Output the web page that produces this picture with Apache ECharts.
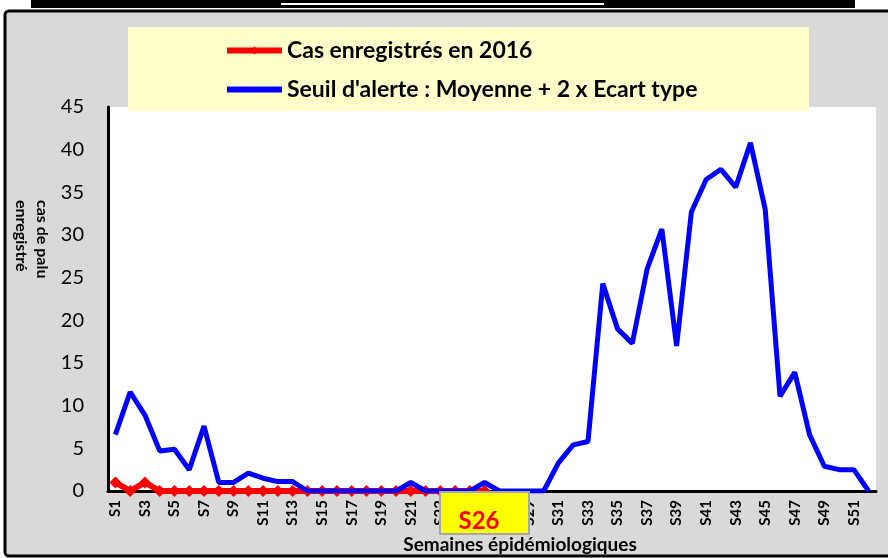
<!DOCTYPE html>
<html>
<head>
<meta charset="utf-8">
<script src="https://cdn.jsdelivr.net/npm/echarts@6/dist/echarts.min.js"></script>
<style>
  html, body { margin: 0; padding: 0; background: #fff; }
  #main { width: 888px; height: 558px; }
</style>
</head>
<body>
<div id="main"></div>
<script>
// semaines epidemiologiques
const weeks = ["S1", "S2", "S3", "S4", "S5", "S6", "S7", "S8", "S9", "S10",
  "S11", "S12", "S13", "S14", "S15", "S16", "S17", "S18", "S19", "S20",
  "S21", "S22", "S23", "S24", "S25", "S26", "S27", "S28", "S29", "S30",
  "S31", "S32", "S33", "S34", "S35", "S36", "S37", "S38", "S39", "S40",
  "S41", "S42", "S43", "S44", "S45", "S46", "S47", "S48", "S49", "S50",
  "S51", "S52"];

// cas enregistrés en 2016 (jusqu'à S26)
const cas2016 = [1, 0, 1, 0, 0, 0, 0, 0, 0, 0, 0, 0, 0,
  0, 0, 0, 0, 0, 0, 0, 0, 0, 0, 0, 0, 0];

// seuil d'alerte : moyenne + 2 x ecart type
const seuil = [6.6, 11.6, 8.9, 4.7, 4.9, 2.5, 7.6, 1.0, 1.0, 2.1,
  1.5, 1.1, 1.1, 0, 0, 0, 0, 0, 0, 0,
  1.0, 0, 0, 0, 0, 1.0, 0, 0, 0, 0,
  3.3, 5.4, 5.8, 24.3, 19.0, 17.3, 26.0, 30.7, 17.0, 32.7,
  36.5, 37.7, 35.6, 40.8, 33.0, 11.1, 13.9, 6.6, 2.9, 2.5,
  2.5, 0];

const yTicks = [0, 45, 5]; // min, max, pas
const legendNames = ["Cas enregistrés en 2016", "Seuil d'alerte : Moyenne + 2 x Ecart type"];
const currentWeek = "S26";

const font = "Lato, 'Noto Sans', sans-serif";
const chart = echarts.init(document.getElementById("main"));

const option = {
  backgroundColor: "#fff",
  animation: false,
  textStyle: { fontFamily: font },
  grid: {
    left: 108,
    right: 12,
    top: 107,
    bottom: 67,
    show: true,
    backgroundColor: "#fff",
    borderWidth: 0
  },
  legend: {
    data: [
      { name: legendNames[0] },
      { name: legendNames[1], itemStyle: { opacity: 0 } }
    ],
    orient: "vertical",
    left: 224,
    top: 39,
    padding: 0,
    itemWidth: 55,
    itemHeight: 10,
    itemGap: 16,
    z: 10,
    lineStyle: { width: 6 },
    textStyle: {
      fontFamily: font,
      fontSize: 23,
      fontWeight: "bold",
      color: "#000",
      lineHeight: 20
    }
  },
  xAxis: {
    type: "category",
    data: weeks,
    boundaryGap: true,
    axisLine: { lineStyle: { color: "#000", width: 3 } },
    axisTick: { show: false },
    axisLabel: {
      interval: 1,
      rotate: 90,
      margin: 9,
      color: "#000",
      fontFamily: font,
      fontWeight: "bold",
      fontSize: 15
    },
    splitLine: { show: false }
  },
  yAxis: {
    type: "value",
    min: yTicks[0],
    max: yTicks[1],
    interval: yTicks[2],
    axisLine: { show: true, lineStyle: { color: "#000", width: 3 } },
    axisTick: { show: false },
    axisLabel: {
      margin: 24,
      color: "#000",
      fontFamily: font,
      fontSize: 20
    },
    splitLine: { show: false }
  },
  series: [
    {
      name: legendNames[0],
      type: "line",
      data: cas2016,
      symbol: "diamond",
      symbolSize: 12,
      showAllSymbol: true,
      lineStyle: { color: "#FF0000", width: 6 },
      itemStyle: { color: "#FF0000" },
      z: 3
    },
    {
      name: legendNames[1],
      type: "line",
      data: seuil,
      symbol: "none",
      lineStyle: { color: "#0000FF", width: 5 },
      itemStyle: { color: "#0000FF" },
      z: 4
    }
  ],
  graphic: [
    // cadre
    {
      type: "rect", z: -10,
      shape: { x: 5, y: 11, width: 900, height: 545, r: 4 },
      style: { fill: "#D9D9D9", stroke: "#000", lineWidth: 3 }
    },
    // bandeau titre (coupé)
    {
      type: "rect", z: -9,
      shape: { x: 31, y: 0, width: 824, height: 8 },
      style: { fill: "#000" }
    },
    {
      type: "rect", z: -8,
      shape: { x: 281, y: 3, width: 323, height: 2 },
      style: { fill: "#fff" }
    },
    // fond légende
    {
      type: "rect", z: 5,
      shape: { x: 128, y: 27, width: 681, height: 84 },
      style: { fill: "#FFFFCC" }
    },
    // titre axe y
    {
      type: "text", z: 5,
      x: 53, y: 200,
      rotation: -Math.PI / 2,
      style: {
        text: "cas de palu\nenregistré",
        fontFamily: font,
        fontSize: 16,
        fontWeight: "bold",
        fill: "#000",
        align: "left",
        verticalAlign: "top",
        lineHeight: 21
      }
    },
    // titre axe x
    {
      type: "text", z: 5,
      x: 520, y: 545,
      style: {
        text: "Semaines épidémiologiques",
        fontFamily: font,
        fontSize: 19,
        fontWeight: "bold",
        fill: "#000",
        align: "center",
        verticalAlign: "middle"
      }
    },
    // semaine en cours
    {
      type: "rect", z: 6,
      shape: { x: 440, y: 492, width: 89, height: 42 },
      style: { fill: "#FFFF00", stroke: "#A6A6A6", lineWidth: 2 }
    },
    {
      type: "text", z: 7,
      x: 479, y: 521,
      style: {
        text: currentWeek,
        fontFamily: font,
        fontSize: 24,
        fontWeight: "bold",
        fill: "#FF0000",
        align: "center",
        verticalAlign: "middle"
      }
    }
  ]
};

chart.setOption(option);
</script>
</body>
</html>
